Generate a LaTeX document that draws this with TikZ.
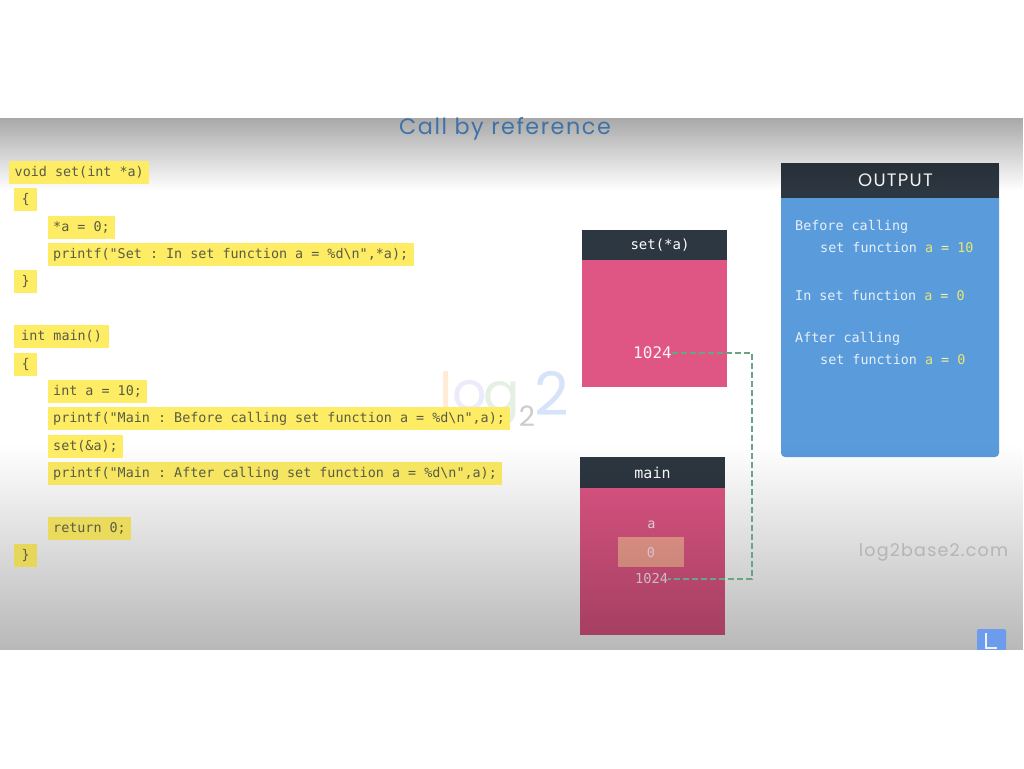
\documentclass[tikz,border=0pt]{standalone}
\usepackage{fontspec}
\usepackage{xcolor}
\usetikzlibrary{positioning,fadings}
\setmonofont{DejaVu Sans Mono}
\newfontfamily\roundfont[LetterSpace=7]{Poppins}
\newfontfamily\logofont{Poppins}
\definecolor{hl}{HTML}{FDEC64}
\definecolor{codeink}{HTML}{5A5C48}
\definecolor{framehead}{HTML}{2D3741}
\definecolor{framebody}{HTML}{DF5685}
\definecolor{cellfill}{HTML}{F5A193}
\definecolor{panelblue}{HTML}{5A9BDB}
\definecolor{outink}{HTML}{E6F0FA}
\definecolor{outval}{HTML}{E8E86E}
\definecolor{linkgreen}{HTML}{67A584}
\definecolor{titleblue}{HTML}{3F73A8}
\definecolor{markblue}{HTML}{6C9CEB}
\newcommand{\monofont}[1]{\ttfamily\fontsize{#1}{#1}\selectfont}
\tikzfading[name=fadedown, top color=transparent!100, bottom color=transparent!0]
\tikzfading[name=fadeup, top color=transparent!0, bottom color=transparent!100]

\begin{document}
\begin{tikzpicture}[
  x=1pt, y=-1pt,
  codeline/.style={fill=hl, anchor=west, text=codeink, font=\monofont{13.4},
    minimum height=23pt, inner xsep=5.5pt, inner ysep=0pt, text height=10.5pt, text depth=2.5pt},
  brace/.style={codeline, minimum width=23pt, align=center},
  framehd/.style={fill=framehead, text=white, minimum width=145pt, inner sep=0pt},
  framebd/.style={fill=framebody, minimum width=145pt, inner sep=0pt},
  memtext/.style={text=white!85!framebody, inner sep=0pt},
  outline/.style={anchor=west, text=outink, font=\monofont{13.4}, inner sep=0pt,
    text height=11.5pt, text depth=1.5pt},
  link/.style={draw=linkgreen, line width=1.6pt, dash pattern=on 6pt off 3pt}
]
  \useasboundingbox (0,0) rectangle (1024,768);
  \fill[white] (0,0) rectangle (1024,768);

  % watermark
  \node[inner sep=0pt, text=orange!16!white, font=\logofont\fontsize{54}{54}\selectfont] (wml) at (446,392) {l};
  \node[inner sep=0pt, text=black!14!blue!8!white, font=\logofont\fontsize{54}{54}\selectfont] (wmo) at (470,396) {o};
  \node[inner sep=0pt, text=green!40!black!10!white, font=\logofont\fontsize{54}{54}\selectfont] (wmg) at (502,404) {g};
  \node[inner sep=0pt, text=black!20, font=\logofont\fontsize{28}{28}\selectfont] (wmsub) at (527,416) {2};
  \node[inner sep=0pt, text=markblue!28, font=\logofont\fontsize{60}{60}\selectfont] (wmbig) at (552,393) {2};

  % stack frames
  \node[framehd, minimum height=30pt, font=\monofont{14}] (sethd) at (654.5,245) {\hspace*{11pt}set(*a)};
  \node[framebd, minimum height=127pt, below=0pt of sethd] (setbd) {};
  \node[framehd, minimum height=31pt, font=\monofont{15}] (mainhd) at (652.5,472.5) {main};
  \node[framebd, minimum height=147pt, below=0pt of mainhd] (mainbd) {};
  \node[fill=cellfill, minimum width=66pt, minimum height=30pt, inner sep=0pt] (cell) at (651,552) {};
  \node[memtext, font=\monofont{13.5}] (cellname) at (651.5,524.5) {a};
  \node[memtext, font=\monofont{13.5}] (cellval) at (651,552.5) {0};
  \node[memtext, font=\monofont{13.7}] (mainval) at (651.5,579) {1024};
  \node[memtext, font=\monofont{16}, text=white!92!framebody] (setval) at (652.5,353) {1024};
  \coordinate (turn) at (752,466);

  % output panel
  \node[fill=panelblue, rounded corners=4pt, minimum width=218pt, minimum height=294pt, inner sep=0pt] (panel) at (890,310) {};
  \node[fill=framehead, text=white, minimum width=218pt, minimum height=35pt, inner sep=0pt,
    font=\roundfont\fontsize{18}{18}\selectfont, below=0pt of panel.north] (panelhd) {\hspace*{11pt}OUTPUT};
  \node[outline] (outa) at (795,225) {Before calling};
  \node[outline] (outb) at (820,247) {set function \textcolor{outval}{a} \textcolor{outval!60!white}{=} \textcolor{outval}{10}};
  \node[outline] (outc) at (795,295) {In set function \textcolor{outval}{a} \textcolor{outval!60!white}{=} \textcolor{outval}{0}};
  \node[outline] (outd) at (795,337) {After calling};
  \node[outline] (oute) at (820,359) {set function \textcolor{outval}{a} \textcolor{outval!60!white}{=} \textcolor{outval}{0}};

  \node[inner sep=0pt, text=black!17, font=\roundfont\fontsize{17.5}{17.5}\selectfont] (site) at (933.5,552.5) {log2base2.com};

  % screen shading, then the white bands
  \fill[black, fill opacity=0.34, path fading=fadeup] (0,118) rectangle (1024,190);
  \fill[black, fill opacity=0.28, path fading=fadedown] (0,445) rectangle (1024,650);
  \draw[link] (setval.east) -| (turn) |- (mainval.east);

  % corner mark
  \fill[markblue, rounded corners=2pt] (977,654) -- (977,629) -- (1006,629) -- (1006,654) -- cycle;
  \draw[white!88!markblue, line width=2.5pt] (986,633) -- (986,648) -- (997,648);
  \fill[white] (0,650) rectangle (1024,768);

  % code
  \node[codeline] (sethead) at (9,172) {void set(int *a)};
  \node[brace] (setopen) at (14,199.5) {\{};
  \node[codeline] (setassign) at (47.5,227) {*a = 0;};
  \node[codeline] (setprint) at (47.5,254) {printf("Set : In set function a = \%d\textbackslash n",*a);};
  \node[brace] (setclose) at (14,281.5) {\}};
  \node[codeline, inner xsep=7pt] (mainhead) at (14,336.5) {int main()};
  \node[brace] (mainopen) at (14,364) {\{};
  \node[codeline] (maindecl) at (47.5,391) {int a = 10;};
  \node[codeline] (mainbefore) at (47.5,418) {printf("Main : Before calling set function a = \%d\textbackslash n",a);};
  \node[codeline] (maincall) at (47.5,446) {set(\&a);};
  \node[codeline, fill=hl!97!black] (mainafter) at (47.5,473) {printf("Main : After calling set function a = \%d\textbackslash n",a);};
  \node[codeline, fill=hl!93!black] (mainret) at (47.5,528) {return 0;};
  \node[brace, fill=hl!91!black] (mainclose) at (14,555.5) {\}};

  \node[inner sep=0pt, text=titleblue, font=\roundfont\fontsize{22.3}{22.3}\selectfont] (title) at (505,129) {Call by reference};
\end{tikzpicture}
\end{document}
